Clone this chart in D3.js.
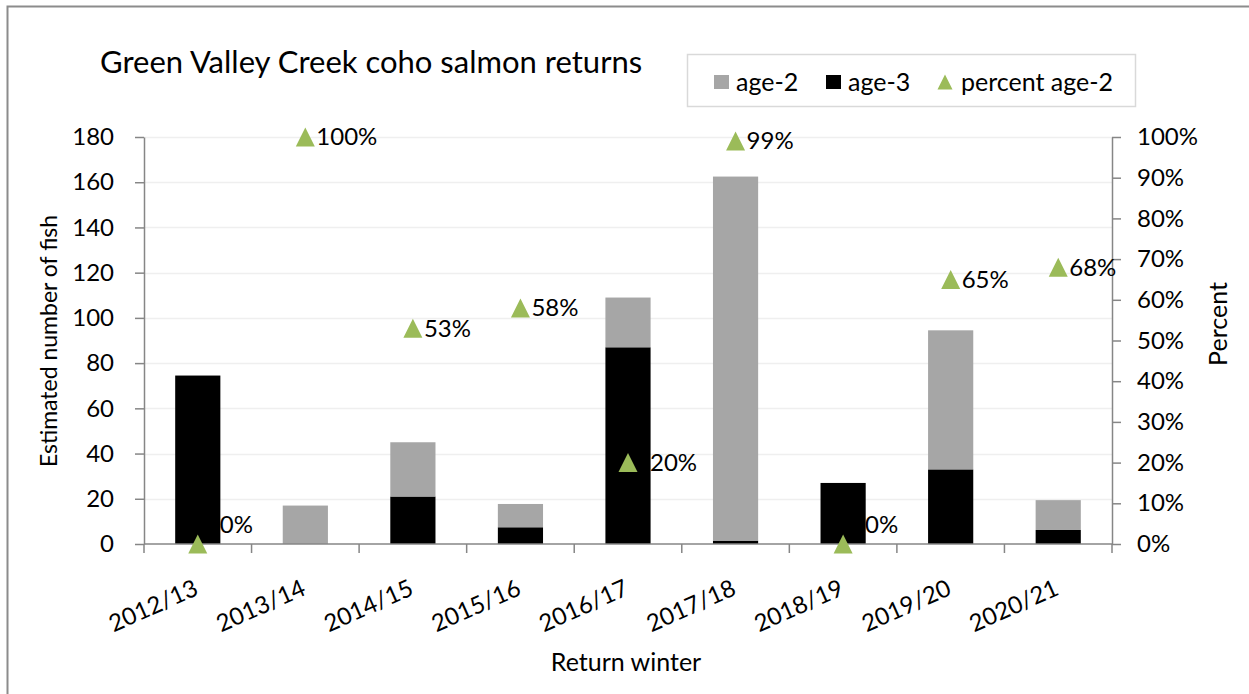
<!DOCTYPE html>
<html>
<head>
<meta charset="utf-8">
<script src="https://cdn.jsdelivr.net/npm/d3@7"></script>
<style>
  body { margin: 0; background: #fff; }
  svg { display: block; font-family: Lato, "Open Sans", sans-serif; }
</style>
</head>
<body>
<div id="viz"></div>
<script>
const WIDTH = 1249;
const HEIGHT = 694;
const PLOT = { left: 144, right: 1112, top: 137, bottom: 544 };

// data
const winters = ['2012/13', '2013/14', '2014/15', '2015/16', '2016/17',
  '2017/18', '2018/19', '2019/20', '2020/21'];
const age2 = [0, 17, 24, 10.3, 22, 161, 0, 61.5, 13.2];
const age3 = [74.5, 0, 21, 7.4, 87, 1.5, 27, 33, 6.2];
const pctAge2 = [0, 100, 53, 58, 20, 99, 0, 65, 68];
const countTicks = [0, 20, 40, 60, 80, 100, 120, 140, 160, 180];
const pctTicks = [0, 10, 20, 30, 40, 50, 60, 70, 80, 90, 100];
const seriesNames = ['age-2', 'age-3', 'percent age-2'];

const COLORS = { 'age-2': '#a6a6a6', 'age-3': '#000000', 'percent age-2': '#9bbb59' };
const AXIS_COLOR = '#868686';
const GRID_COLOR = '#efefef';

const rows = winters.map((w, i) => ({ winter: w, 'age-3': age3[i], 'age-2': age2[i], pct: pctAge2[i] }));

// triangle the way Excel draws it: about as tall as it is wide
const excelTriangle = {
  draw(ctx, size) {
    const h = Math.sqrt(size);
    ctx.moveTo(0, -h / 2);
    ctx.lineTo(h / 2, h / 2);
    ctx.lineTo(-h / 2, h / 2);
    ctx.closePath();
  }
};

const svg = d3.select('#viz').append('svg')
  .attr('width', WIDTH)
  .attr('height', HEIGHT);

// outer chart border (only top and left are inside the picture)
svg.append('rect')
  .attr('x', 7.5).attr('y', 6.5)
  .attr('width', WIDTH + 20).attr('height', HEIGHT + 20)
  .attr('fill', 'none')
  .attr('stroke', '#8c8c8c')
  .attr('stroke-width', 2);

const xCat = d3.scaleBand()
  .domain(winters)
  .range([PLOT.left, PLOT.right]);

const xBar = d3.scaleBand()
  .domain(winters)
  .range([PLOT.left, PLOT.right])
  .paddingInner(0.58)
  .paddingOuter(0.29);

const y = d3.scaleLinear()
  .domain([0, 180])
  .range([PLOT.bottom, PLOT.top]);

const yPct = d3.scaleLinear()
  .domain([0, 100])
  .range([PLOT.bottom, PLOT.top]);

const mid = w => xCat(w) + xCat.bandwidth() / 2;

// gridlines
svg.append('g')
  .attr('class', 'grid')
  .selectAll('line')
  .data(countTicks.slice(1))
  .join('line')
  .attr('x1', PLOT.left).attr('x2', PLOT.right)
  .attr('y1', d => Math.round(y(d)) + 0.5)
  .attr('y2', d => Math.round(y(d)) + 0.5)
  .attr('stroke', GRID_COLOR)
  .attr('stroke-width', 1.5);

// stacked bars
const stack = d3.stack().keys(['age-3', 'age-2'])(rows);
svg.append('g')
  .attr('class', 'bars')
  .selectAll('g')
  .data(stack)
  .join('g')
  .attr('fill', s => COLORS[s.key])
  .selectAll('rect')
  .data(s => s)
  .join('rect')
  .attr('x', d => xBar(d.data.winter))
  .attr('width', xBar.bandwidth())
  .attr('y', d => y(d[1]))
  .attr('height', d => y(d[0]) - y(d[1]));

// axes
const styleAxis = (g) => {
  g.selectAll('.domain').attr('stroke', AXIS_COLOR).attr('stroke-width', 1.5);
  g.selectAll('.tick line').attr('stroke', AXIS_COLOR).attr('stroke-width', 1.5);
  g.selectAll('text')
    .attr('font-size', 24)
    .attr('fill', '#000')
    .attr('font-family', 'Lato, "Open Sans", sans-serif');
};

svg.append('g')
  .attr('class', 'yaxis')
  .attr('transform', `translate(${PLOT.left},0)`)
  .call(d3.axisLeft(y).tickValues(countTicks).tickSize(9).tickPadding(21).tickSizeOuter(0))
  .call(styleAxis);

svg.append('g')
  .attr('class', 'y2axis')
  .attr('transform', `translate(${PLOT.right},0)`)
  .call(d3.axisRight(yPct).tickValues(pctTicks).tickSize(9).tickPadding(16).tickSizeOuter(0)
    .tickFormat(d => `${d}%`))
  .call(styleAxis);

// category axis: ticks on the band boundaries, slanted labels at band centres
const xAxis = svg.append('g')
  .attr('class', 'xaxis')
  .attr('transform', `translate(0,${PLOT.bottom})`);

xAxis.append('line')
  .attr('x1', PLOT.left).attr('x2', PLOT.right)
  .attr('stroke', AXIS_COLOR).attr('stroke-width', 1.5);

xAxis.selectAll('line.tick')
  .data(winters.map(w => xCat(w)).concat([PLOT.right]))
  .join('line')
  .attr('class', 'tick')
  .attr('x1', d => d).attr('x2', d => d)
  .attr('y1', 0).attr('y2', 9)
  .attr('stroke', AXIS_COLOR).attr('stroke-width', 1.5);

xAxis.selectAll('text')
  .data(winters)
  .join('text')
  .attr('text-anchor', 'end')
  .attr('font-size', 24)
  .attr('transform', w => `translate(${mid(w) + 2},${50}) rotate(-24)`)
  .text(w => w);

// percent age-2 markers and labels
const marks = svg.append('g').attr('class', 'markers');
marks.selectAll('path')
  .data(rows)
  .join('path')
  .attr('transform', d => `translate(${mid(d.winter)},${yPct(d.pct)})`)
  .attr('d', d3.symbol(excelTriangle, 19 * 19))
  .attr('fill', COLORS['percent age-2']);

const labelDx = p => (p < 30 ? 22 : 11);
const labelDy = p => (p === 0 ? -19 : 0);
marks.selectAll('text')
  .data(rows)
  .join('text')
  .attr('x', d => mid(d.winter) + labelDx(d.pct))
  .attr('y', d => yPct(d.pct) + labelDy(d.pct))
  .attr('dy', '0.35em')
  .attr('font-size', 24)
  .text(d => `${d.pct}%`);

// titles
svg.append('text')
  .attr('x', 100).attr('y', 73)
  .attr('font-size', 31)
  .text('Green Valley Creek coho salmon returns');

svg.append('text')
  .attr('transform', `translate(${49},${341}) rotate(-90)`)
  .attr('text-anchor', 'middle')
  .attr('dy', '0.35em')
  .attr('font-size', 23)
  .text('Estimated number of fish');

svg.append('text')
  .attr('transform', `translate(${1218},${324}) rotate(-90)`)
  .attr('text-anchor', 'middle')
  .attr('dy', '0.35em')
  .attr('font-size', 25)
  .text('Percent');

svg.append('text')
  .attr('x', 626)
  .attr('y', 662)
  .attr('dy', '0.35em')
  .attr('text-anchor', 'middle')
  .attr('font-size', 25)
  .text('Return winter');

// legend
const legend = svg.append('g').attr('class', 'legend');
legend.append('rect')
  .attr('x', 687.5).attr('y', 54.5)
  .attr('width', 448).attr('height', 52)
  .attr('fill', '#fff')
  .attr('stroke', '#d9d9d9')
  .attr('stroke-width', 1.5);

const legendX = [714, 826, 937];
const item = legend.selectAll('g.item')
  .data(seriesNames)
  .join('g')
  .attr('class', 'item')
  .attr('transform', (d, i) => `translate(${legendX[i]},${82})`);

item.filter(d => d !== 'percent age-2')
  .append('rect')
  .attr('x', 0).attr('y', -7)
  .attr('width', 15).attr('height', 14)
  .attr('fill', d => COLORS[d]);

item.filter(d => d === 'percent age-2')
  .append('path')
  .attr('transform', 'translate(8,0)')
  .attr('d', d3.symbol(excelTriangle, 15 * 15))
  .attr('fill', COLORS['percent age-2']);

item.append('text')
  .attr('x', d => (d === 'percent age-2' ? 24 : 22))
  .attr('dy', '0.35em')
  .attr('font-size', 25)
  .text(d => d);
</script>
</body>
</html>
